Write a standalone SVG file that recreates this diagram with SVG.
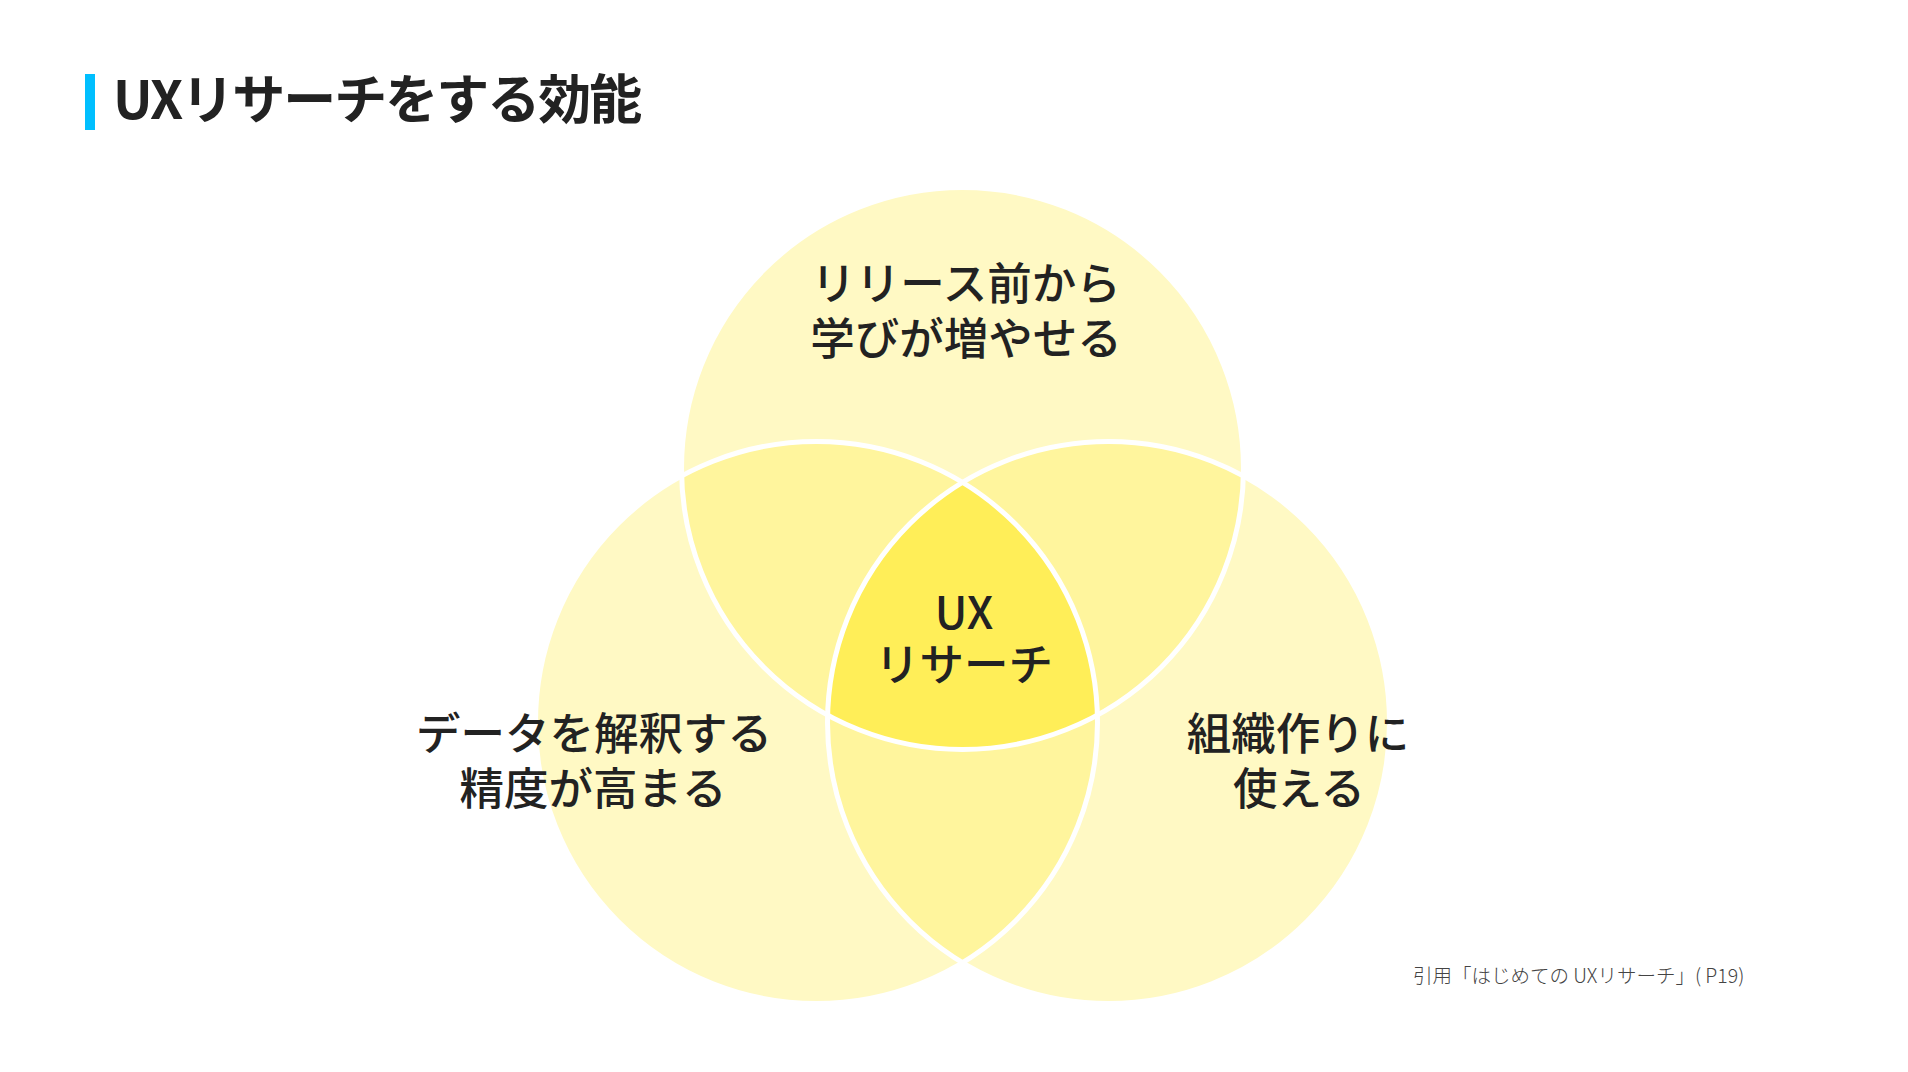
<svg xmlns="http://www.w3.org/2000/svg" width="1908" height="1072" viewBox="0 0 1908 1072">
<style>
.jp{font-family:"Noto Sans CJK JP","Noto Sans",sans-serif;fill:#222}
.title{font-size:53px;font-weight:700;letter-spacing:-2px}
.lbl{font-size:44.5px;font-weight:500;text-anchor:middle}
.cite{font-size:19.5px;font-weight:300;fill:#444}
.ring{fill:none;stroke:#fff;stroke-width:5}
.f1{fill:#FFF9C4}
.f2{fill:#FFF59D}
.f3{fill:#FFEE58}
</style>
<defs>
<clipPath id="cT"><circle cx="962.5" cy="468.5" r="281"/></clipPath>
<clipPath id="cL"><circle cx="816.5" cy="722.5" r="281"/></clipPath>
<clipPath id="cTL" clip-path="url(#cT)"><circle cx="816.5" cy="722.5" r="281"/></clipPath>
</defs>
<rect width="1908" height="1072" fill="#fff"/>
<g id="title">
<rect x="85" y="74" width="10" height="56" fill="#00BFFF"/>
<text class="jp title" x="113" y="119">UXリサーチをする効能</text>
</g>
<g id="venn-fills">
<circle class="f1" cx="962.5" cy="468.5" r="281"/>
<circle class="f1" cx="816.5" cy="722.5" r="281"/>
<circle class="f1" cx="1108.5" cy="722.5" r="281"/>
<circle class="f2" cx="816.5" cy="722.5" r="281" clip-path="url(#cT)"/>
<circle class="f2" cx="1108.5" cy="722.5" r="281" clip-path="url(#cT)"/>
<circle class="f2" cx="1108.5" cy="722.5" r="281" clip-path="url(#cL)"/>
<circle class="f3" cx="1108.5" cy="722.5" r="281" clip-path="url(#cTL)"/>
</g>
<g id="node-top">
<circle class="ring" cx="962.5" cy="468.5" r="281"/>
<text class="jp lbl" x="966" y="300">リリース前から</text>
<text class="jp lbl" x="966" y="355">学びが増やせる</text>
</g>
<g id="node-left">
<circle class="ring" cx="816.5" cy="722.5" r="281"/>
<text class="jp lbl" x="594" y="750">データを解釈する</text>
<text class="jp lbl" x="593" y="805">精度が高まる</text>
</g>
<g id="node-right">
<circle class="ring" cx="1108.5" cy="722.5" r="281"/>
<text class="jp lbl" x="1298" y="750">組織作りに</text>
<text class="jp lbl" x="1299" y="805">使える</text>
</g>
<g id="node-center">
<text class="jp lbl" x="964" y="629">UX</text>
<text class="jp lbl" x="964" y="681">リサーチ</text>
</g>
<g id="citation">
<text class="jp cite" x="1413" y="983">引用「はじめての UXリサーチ」( P19)</text>
</g>
</svg>
